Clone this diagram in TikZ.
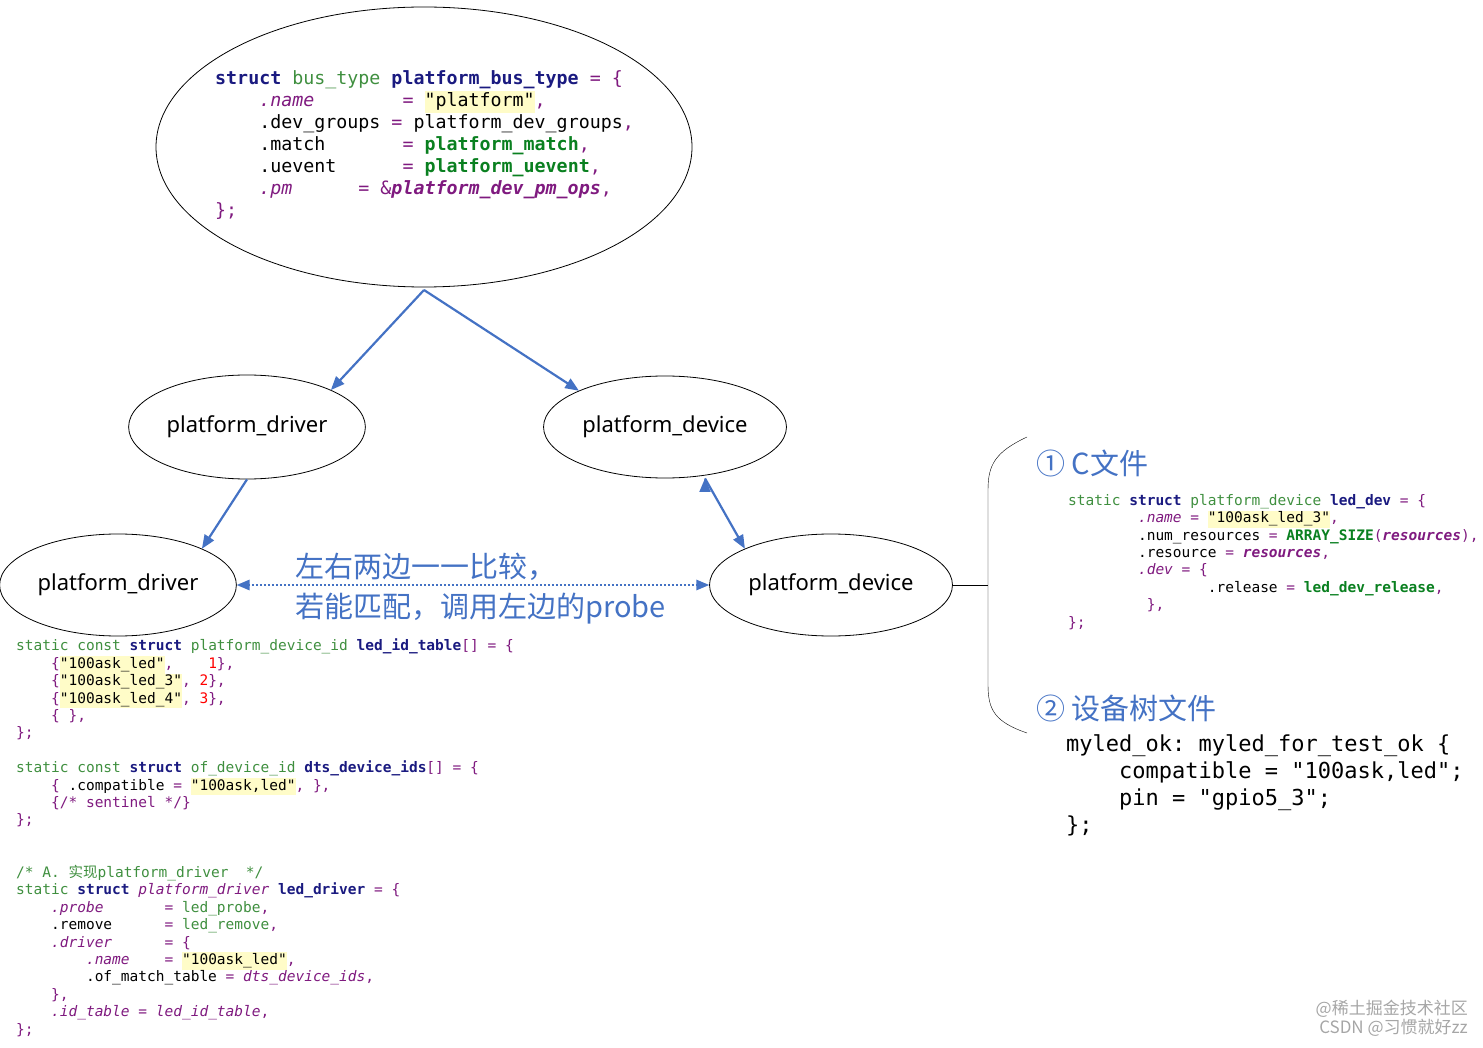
\documentclass[tikz,border=0pt]{standalone}
\usepackage{fontspec}
\setmainfont{Noto Sans}
\setmonofont{DejaVu Sans Mono}
\newfontfamily\cjk{Noto Sans CJK SC}
\usetikzlibrary{positioning, arrows, shapes.geometric}
\definecolor{arrowblue}{HTML}{4472C4}
\definecolor{kwblue}{HTML}{1A1A80}
\definecolor{typegreen}{HTML}{3F8F3F}
\definecolor{fngreen}{HTML}{0A8020}
\definecolor{mempurple}{HTML}{7F1A7F}
\definecolor{strbg}{HTML}{FFFCC8}
\newcommand{\kw}[1]{\textcolor{kwblue}{\textbf{#1}}}
\newcommand{\ty}[1]{\textcolor{typegreen}{#1}}
\newcommand{\fn}[1]{\textcolor{fngreen}{\textbf{#1}}}
\newcommand{\mb}[1]{\textcolor{mempurple}{\textit{#1}}}
\newcommand{\pu}[1]{\textcolor{mempurple}{#1}}
\newcommand{\hl}[1]{{\setlength{\fboxsep}{0pt}\colorbox{strbg}{\strut #1}}}
\newcommand{\nm}[1]{\textcolor{red}{#1}}
\tikzset{
  blob/.style={ellipse, draw=black, thick, font=\fontsize{22}{26}\selectfont},
  arrow/.style={line width=2.2pt, draw=arrowblue, ->, >=triangle 45},
  code/.style={anchor=north west, align=left, inner sep=0pt, font=\ttfamily\fontsize{14.5}{17.4}\selectfont},
  bigcode/.style={anchor=north west, align=left, inner sep=0pt, font=\ttfamily\fontsize{18.3}{22}\selectfont},
  note/.style={anchor=west, inner sep=0pt, text=arrowblue, font=\cjk\fontsize{29}{42}\selectfont},
}
\begin{document}
\begin{tikzpicture}[x=1pt,y=-1pt]
  \useasboundingbox (0,0) rectangle (1483,1048);
  % bus
  \node (bus) [blob, minimum width=536pt, minimum height=280pt] at (424,147) {};
  \node (buscode) [bigcode] at (215,70) {%
\kw{struct} \ty{bus\_type} \kw{platform\_bus\_type} \pu{= \{}\\
~~~~\mb{.name}~~~~~~~~\pu{=} \hl{"platform"}\pu{,}\\
~~~~.dev\_groups \pu{=} platform\_dev\_groups\pu{,}\\
~~~~.match~~~~~~~\pu{=} \fn{platform\_match}\pu{,}\\
~~~~.uevent~~~~~~\pu{=} \fn{platform\_uevent}\pu{,}\\
~~~~\mb{.pm}~~~~~~\pu{=} \pu{\&\textbf{\textit{platform\_dev\_pm\_ops}},}\\
\pu{\};}};
  % platform nodes
  \node (drvA) [blob, minimum width=220pt, minimum height=104pt] at (247,427) {platform\_driver};
  \node (devA) [blob, minimum width=240pt, minimum height=102pt] at (665,427) {platform\_device};
  \node (drvB) [blob, minimum width=220pt, minimum height=102pt] at (118,585) {platform\_driver};
  \node (devB) [blob, minimum width=240pt, minimum height=102pt] at (831,585) {platform\_device};
  \coordinate (busfoot) at (424,290);
  \draw [arrow] (busfoot) -- (drvA.north east);
  \draw [arrow] (busfoot) -- (devA.north west);
  \draw [arrow] (drvA.south) -- (drvB.north east);
  \draw [arrow] (devA.south) ++(40pt,0) coordinate (devfoot);
  \draw [arrow] (devfoot) -- (devB.north west);
  \draw [line width=2pt, draw=arrowblue, dotted, <->, >=triangle 45] (drvB) -- (devB);
  \node (cmp1) [note] at (295,567) {左右两边一一比较，};
  \node (cmp2) [note] at (295,609) {若能匹配，调用左边的probe};
  % brace to the right
  \coordinate (tick) at (988,585);
  \draw [thin] (devB.east) -- (tick);
  \draw [thin] (1027,437) .. controls (995,452) and (988,465) .. (988,490) -- (988,685)
    .. controls (988,710) and (995,722) .. (1027,733);
  \node (cfile) [note] at (1036,463) {① C文件};
  \node (dts) [note] at (1036,708) {② 设备树文件};
  \node (devcode) [code] at (1068,494) {%
\ty{static} \kw{struct} \ty{platform\_device} \kw{led\_dev} \pu{= \{}\\
~~~~~~~~\mb{.name} \pu{=} \hl{"100ask\_led\_3"}\pu{,}\\
~~~~~~~~.num\_resources \pu{=} \fn{ARRAY\_SIZE}\pu{(\textbf{\textit{resources}}),}\\
~~~~~~~~.resource \pu{= \textbf{\textit{resources}},}\\
~~~~~~~~\mb{.dev} \pu{= \{}\\
~~~~~~~~~~~~~~~~.release \pu{=} \fn{led\_dev\_release}\pu{,}\\
~~~~~~~~~\pu{\},}\\
\pu{\};}};
  \node (dtscode) [code, font=\ttfamily\fontsize{22}{27}\selectfont] at (1066,734) {%
myled\_ok: myled\_for\_test\_ok \{\\
~~~~compatible = "100ask,led";\\
~~~~pin = "gpio5\_3";\\
\};};
  % driver side code
  \node (idcode) [code] at (16,639) {%
\ty{static const} \kw{struct} \ty{platform\_device\_id} \kw{led\_id\_table}\pu{[] = \{}\\
~~~~\pu{\{}\hl{"100ask\_led"}\pu{,}~~~~\nm{1}\pu{\},}\\
~~~~\pu{\{}\hl{"100ask\_led\_3"}\pu{,} \nm{2}\pu{\},}\\
~~~~\pu{\{}\hl{"100ask\_led\_4"}\pu{,} \nm{3}\pu{\},}\\
~~~~\pu{\{ \},}\\
\pu{\};}\\[17.4pt]
\ty{static const} \kw{struct} \ty{of\_device\_id} \kw{dts\_device\_ids}\pu{[] = \{}\\
~~~~\pu{\{} .compatible \pu{=} \hl{"100ask,led"}\pu{, \},}\\
~~~~\pu{\{/* sentinel */\}}\\
\pu{\};}};
  \node (drvcode) [code] at (16,865) {%
\ty{/* A. {\cjk 实现}platform\_driver~~*/}\\
\ty{static} \kw{struct} \pu{\textit{platform\_driver}} \kw{led\_driver} \pu{= \{}\\
~~~~\mb{.probe}~~~~~~~\pu{=} \ty{led\_probe}\pu{,}\\
~~~~.remove~~~~~~\pu{=} \ty{led\_remove}\pu{,}\\
~~~~\mb{.driver}~~~~~~\pu{= \{}\\
~~~~~~~~\mb{.name}~~~~\pu{=} \hl{"100ask\_led"}\pu{,}\\
~~~~~~~~.of\_match\_table \pu{=} \mb{dts\_device\_ids}\pu{,}\\
~~~~\pu{\},}\\
~~~~\mb{.id\_table} \pu{=} \mb{led\_id\_table}\pu{,}\\
\pu{\};}};
  % watermark
  \node (mark) [anchor=north east, align=right, inner sep=0pt, text=black!35, font=\cjk\fontsize{17}{19}\selectfont] at (1468,1000) {@稀土掘金技术社区\\CSDN @习惯就好zz};
\end{tikzpicture}
\end{document}
